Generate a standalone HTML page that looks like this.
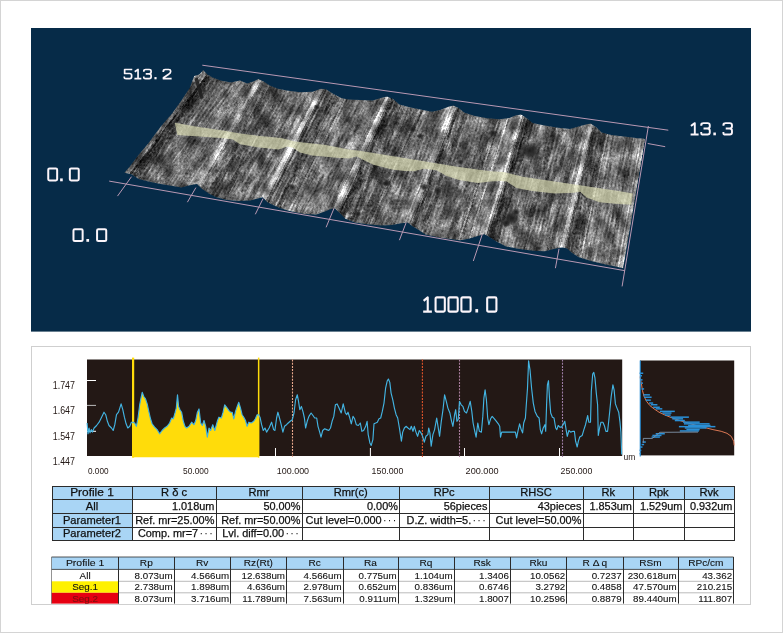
<!DOCTYPE html>
<html><head><meta charset="utf-8"><title>Profile</title>
<style>
html,body{margin:0;padding:0;background:#fff;}
body{width:783px;height:633px;position:relative;overflow:hidden;font-family:"Liberation Sans",sans-serif;color:#231815;}
#frame{position:absolute;left:0;top:0;width:781px;height:631px;border:1px solid #d4d4d4;}
#panel{position:absolute;left:31px;top:346px;width:718px;height:257px;border:1px solid #cfcfcf;}
svg{position:absolute;left:0;top:0;}
.c,.d{position:absolute;box-sizing:border-box;font-size:10.6px;line-height:1;white-space:nowrap;overflow:hidden;color:#111;}
.c{border:1px solid #3a3a3a;margin:-0.5px;background:#fff;}
.c span{display:inline-block;transform:scaleX(0.94);position:relative;top:1.2px;}
.c.b,.d.b{background:#a9d5f5;}
.d{border-left:1px solid #3a3a3a;border-right:1px solid #3a3a3a;margin-left:-0.5px;background:#fff;font-size:10.2px}
.d span{display:inline-block;position:relative;top:0.8px;transform:scaleX(0.93);transform-origin:right center;}
.d.hb{border:1px solid #3a3a3a;}
.d.hb span,.d.w span,.d.y span,.d.r span{transform-origin:center center;}
.d.y{background:#fff100;}
.d.r{background:#e60012;color:#5a0a0a;}
</style></head><body>
<div id="frame"></div>
<div id="panel"></div>
<svg width="783" height="633" viewBox="0 0 783 633">

<rect x="31" y="28" width="720" height="303.6" fill="#062b48"/>
<defs>
<clipPath id="sclip"><path d="M124.5,172.8 131.5,174.3 138.8,179.1 148.5,181.5 160.7,184.0 172.8,185.9 181.3,187.6 189.8,185.2 197.0,184.0 201.9,188.8 209.2,193.7 216.5,197.3 226.2,199.7 238.3,201.0 250.4,200.5 257.7,198.5 262.6,197.3 267.4,202.2 274.7,205.8 280.0,207.9 289.7,211.1 304.3,214.0 316.4,214.5 324.9,211.5 331.0,209.1 334.6,208.6 339.5,212.8 345.5,218.8 355.2,222.5 367.4,224.2 381.9,225.6 391.6,224.9 401.3,223.2 407.4,222.5 412.3,226.1 418.3,229.7 425.6,234.6 440.2,237.8 454.7,239.5 460.0,240.3 469.7,238.6 479.4,235.5 484.3,234.3 489.1,236.7 496.4,241.5 506.1,246.4 518.2,248.8 532.8,250.8 544.9,251.3 554.6,248.8 561.9,247.6 566.8,248.3 571.6,252.5 578.9,257.3 591.0,261.0 605.6,264.6 617.7,267.0 623.1,268.2 645.3,138.7 638.0,138.2 625.9,136.7 611.3,135.0 601.6,132.6 596.8,127.8 590.7,123.6 585.9,124.6 578.6,126.5 570.0,129.0 558.0,127.8 543.4,125.3 532.5,122.9 526.4,118.0 521.0,114.4 515.5,115.6 509.4,118.0 499.7,119.3 487.1,118.3 474.9,115.9 464.6,112.8 458.5,108.1 453.4,105.6 448.3,106.7 440.1,110.1 431.9,111.8 421.7,109.7 409.5,107.3 399.3,104.6 393.1,99.1 387.0,96.5 380.9,97.9 372.7,100.5 360.4,99.9 348.2,99.5 341.2,97.9 333.0,93.8 325.9,89.3 320.8,88.7 312.6,91.8 300.3,92.2 288.1,90.8 277.9,88.7 269.7,85.6 263.6,81.6 258.4,79.1 253.3,81.6 247.2,83.6 240.0,80.5 230.9,82.6 220.6,80.5 212.5,77.5 207.4,74.4 203.3,70.3 199.2,74.4 194.3,76.0 192.5,80.5 190.0,87.6 182.1,99.5 172.3,113.3 160.4,127.1 148.6,142.9 138.7,154.8 129.8,166.6 124.5,172.8z"/></clipPath>
<radialGradient id="pit"><stop offset="0" stop-color="#181818" stop-opacity="0.95"/><stop offset="0.55" stop-color="#222" stop-opacity="0.7"/><stop offset="1" stop-color="#333" stop-opacity="0"/></radialGradient>
<filter id="aniso0" x="0" y="0" width="100%" height="100%" color-interpolation-filters="sRGB">
<feTurbulence type="fractalNoise" baseFrequency="0.5 0.05" numOctaves="3" seed="3"/>
<feColorMatrix type="matrix" values="0.6 0 0 0 0.2  0.6 0 0 0 0.2  0.6 0 0 0 0.2  0 0 0 0 1"/>
</filter>
<filter id="aniso1" x="0" y="0" width="100%" height="100%" color-interpolation-filters="sRGB">
<feTurbulence type="fractalNoise" baseFrequency="0.5 0.05" numOctaves="3" seed="11"/>
<feColorMatrix type="matrix" values="0.6 0 0 0 0.2  0.6 0 0 0 0.2  0.6 0 0 0 0.2  0 0 0 0 1"/>
</filter>
<filter id="aniso2" x="0" y="0" width="100%" height="100%" color-interpolation-filters="sRGB">
<feTurbulence type="fractalNoise" baseFrequency="0.5 0.05" numOctaves="3" seed="23"/>
<feColorMatrix type="matrix" values="0.6 0 0 0 0.2  0.6 0 0 0 0.2  0.6 0 0 0 0.2  0 0 0 0 1"/>
</filter>
<filter id="grain" x="0" y="0" width="100%" height="100%" color-interpolation-filters="sRGB">
<feTurbulence type="fractalNoise" baseFrequency="0.5 0.4" numOctaves="2" seed="5" result="n"/>
<feColorMatrix in="n" type="matrix" values="1 0 0 0 0  1 0 0 0 0  1 0 0 0 0  0 0 0 0 1" result="ng"/>
<feComposite in="SourceGraphic" in2="ng" operator="arithmetic" k1="0" k2="1" k3="0.42" k4="-0.22" result="m"/>
<feTurbulence type="fractalNoise" baseFrequency="0.07 0.06" numOctaves="2" seed="8" result="b"/>
<feColorMatrix in="b" type="matrix" values="1.6 0 0 0 -0.3  1.6 0 0 0 -0.3  1.6 0 0 0 -0.3  0 0 0 0 1" result="bg"/>
<feComposite in="m" in2="bg" operator="arithmetic" k1="0.95" k2="0.52" k3="0" k4="0" result="m2"/>
<feGaussianBlur in="m2" stdDeviation="0.45" result="m3"/>
<feComposite in="m3" in2="SourceGraphic" operator="in"/>
</filter>
<clipPath id="seg0"><path d="M116.5,184.8 197.6,196.0 259.0,67.1 189.3,64.3 z"/></clipPath>
<clipPath id="seg1"><path d="M196.4,196.0 263.2,209.3 321.4,76.7 257.8,67.1 z"/></clipPath>
<clipPath id="seg2"><path d="M262.0,209.3 335.2,220.6 387.6,84.5 320.2,76.7 z"/></clipPath>
<clipPath id="seg3"><path d="M334.0,220.6 408.0,234.5 454.0,93.6 386.4,84.5 z"/></clipPath>
<clipPath id="seg4"><path d="M406.8,234.5 484.9,246.3 521.6,102.4 452.8,93.6 z"/></clipPath>
<clipPath id="seg5"><path d="M483.7,246.3 562.5,259.6 591.3,111.6 520.4,102.4 z"/></clipPath>
<clipPath id="seg6"><path d="M561.3,259.6 623.7,280.2 645.9,126.7 590.1,111.6 z"/></clipPath>
</defs>
<g clip-path="url(#sclip)">
<g filter="url(#grain)">
<g style="isolation:isolate">
<path d="M124.5,172.8 131.5,174.3 138.8,179.1 148.5,181.5 160.7,184.0 172.8,185.9 181.3,187.6 189.8,185.2 197.0,184.0 201.9,188.8 209.2,193.7 216.5,197.3 226.2,199.7 238.3,201.0 250.4,200.5 257.7,198.5 262.6,197.3 267.4,202.2 274.7,205.8 280.0,207.9 289.7,211.1 304.3,214.0 316.4,214.5 324.9,211.5 331.0,209.1 334.6,208.6 339.5,212.8 345.5,218.8 355.2,222.5 367.4,224.2 381.9,225.6 391.6,224.9 401.3,223.2 407.4,222.5 412.3,226.1 418.3,229.7 425.6,234.6 440.2,237.8 454.7,239.5 460.0,240.3 469.7,238.6 479.4,235.5 484.3,234.3 489.1,236.7 496.4,241.5 506.1,246.4 518.2,248.8 532.8,250.8 544.9,251.3 554.6,248.8 561.9,247.6 566.8,248.3 571.6,252.5 578.9,257.3 591.0,261.0 605.6,264.6 617.7,267.0 623.1,268.2 645.3,138.7 638.0,138.2 625.9,136.7 611.3,135.0 601.6,132.6 596.8,127.8 590.7,123.6 585.9,124.6 578.6,126.5 570.0,129.0 558.0,127.8 543.4,125.3 532.5,122.9 526.4,118.0 521.0,114.4 515.5,115.6 509.4,118.0 499.7,119.3 487.1,118.3 474.9,115.9 464.6,112.8 458.5,108.1 453.4,105.6 448.3,106.7 440.1,110.1 431.9,111.8 421.7,109.7 409.5,107.3 399.3,104.6 393.1,99.1 387.0,96.5 380.9,97.9 372.7,100.5 360.4,99.9 348.2,99.5 341.2,97.9 333.0,93.8 325.9,89.3 320.8,88.7 312.6,91.8 300.3,92.2 288.1,90.8 277.9,88.7 269.7,85.6 263.6,81.6 258.4,79.1 253.3,81.6 247.2,83.6 240.0,80.5 230.9,82.6 220.6,80.5 212.5,77.5 207.4,74.4 203.3,70.3 199.2,74.4 194.3,76.0 192.5,80.5 190.0,87.6 182.1,99.5 172.3,113.3 160.4,127.1 148.6,142.9 138.7,154.8 129.8,166.6 124.5,172.8z" fill="#808080"/>
<g shape-rendering="crispEdges">
<path d="M124.5,172.8 127.0,173.3 205.2,72.2 203.3,70.3z" fill="#5f5f5f"/>
<path d="M126.1,173.2 128.7,173.7 206.5,73.5 204.6,71.6z" fill="#5d5d5d"/>
<path d="M127.8,173.5 130.3,174.0 207.7,74.6 205.8,72.8z" fill="#565656"/>
<path d="M129.4,173.9 132.0,174.6 209.0,75.4 207.1,74.1z" fill="#282828"/>
<path d="M131.1,174.2 133.6,175.7 210.2,76.1 208.3,75.0z" fill="#242424"/>
<path d="M132.7,175.1 135.3,176.8 211.5,76.9 209.6,75.7z" fill="#323232"/>
<path d="M134.4,176.2 136.9,177.9 212.7,77.6 210.8,76.5z" fill="#383838"/>
<path d="M136.0,177.3 138.6,178.9 214.0,78.0 212.1,77.2z" fill="#3c3c3c"/>
<path d="M137.7,178.4 140.2,179.4 215.2,78.5 213.3,77.8z" fill="#474747"/>
<path d="M139.3,179.2 141.8,179.9 216.5,79.0 214.6,78.3z" fill="#4e4e4e"/>
<path d="M141.0,179.6 143.5,180.3 217.7,79.4 215.8,78.7z" fill="#565656"/>
<path d="M142.6,180.0 145.1,180.7 219.0,79.9 217.1,79.2z" fill="#575757"/>
<path d="M144.3,180.5 146.8,181.1 220.2,80.4 218.3,79.7z" fill="#6a6a6a"/>
<path d="M145.9,180.9 148.4,181.5 221.5,80.7 219.6,80.1z" fill="#686868"/>
<path d="M147.6,181.3 150.1,181.8 222.7,80.9 220.8,80.5z" fill="#6c6c6c"/>
<path d="M149.2,181.6 151.7,182.2 224.0,81.2 222.1,80.8z" fill="#666666"/>
<path d="M150.9,182.0 153.4,182.5 225.2,81.4 223.3,81.1z" fill="#686868"/>
<path d="M152.5,182.3 155.0,182.8 226.5,81.7 224.6,81.3z" fill="#6e6e6e"/>
<path d="M154.2,182.7 156.7,183.2 227.8,82.0 225.8,81.6z" fill="#626262"/>
<path d="M155.8,183.0 158.3,183.5 229.0,82.2 227.1,81.8z" fill="#656565"/>
<path d="M157.5,183.3 160.0,183.9 230.3,82.5 228.3,82.1z" fill="#6a6a6a"/>
<path d="M159.1,183.7 161.6,184.1 231.5,82.5 229.6,82.3z" fill="#616161"/>
<path d="M160.8,184.0 163.3,184.4 232.8,82.2 230.8,82.6z" fill="#5d5d5d"/>
<path d="M162.4,184.3 164.9,184.7 234.0,81.9 232.1,82.3z" fill="#606060"/>
<path d="M164.0,184.5 166.6,184.9 235.3,81.6 233.4,82.0z" fill="#696969"/>
<path d="M165.7,184.8 168.2,185.2 236.5,81.3 234.6,81.7z" fill="#676767"/>
<path d="M167.3,185.0 169.9,185.4 237.8,81.0 235.9,81.5z" fill="#656565"/>
<path d="M169.0,185.3 171.5,185.7 239.0,80.7 237.1,81.2z" fill="#7f7f7f"/>
<path d="M170.6,185.6 173.2,186.0 240.3,80.6 238.4,80.9z" fill="#797979"/>
<path d="M172.3,185.8 174.8,186.3 241.5,81.2 239.6,80.6z" fill="#838383"/>
<path d="M173.9,186.1 176.4,186.6 242.8,81.7 240.9,80.9z" fill="#797979"/>
<path d="M175.6,186.5 178.1,187.0 244.0,82.2 242.1,81.4z" fill="#808080"/>
<path d="M177.2,186.8 179.7,187.3 245.3,82.8 243.4,82.0z" fill="#7e7e7e"/>
<path d="M178.9,187.1 181.4,187.6 246.5,83.3 244.6,82.5z" fill="#606060"/>
<path d="M180.5,187.4 183.0,187.1 247.8,83.4 245.9,83.0z" fill="#636363"/>
<path d="M182.2,187.4 184.7,186.6 249.0,83.0 247.1,83.6z" fill="#696969"/>
<path d="M183.8,186.9 186.3,186.2 250.3,82.6 248.4,83.2z" fill="#686868"/>
<path d="M185.5,186.4 188.0,185.7 251.5,82.2 249.6,82.8z" fill="#6e6e6e"/>
<path d="M187.1,186.0 189.6,185.2 252.8,81.8 250.9,82.4z" fill="#696969"/>
<path d="M188.8,185.5 191.3,185.0 254.1,81.2 252.1,82.0z" fill="#747474"/>
<path d="M190.4,185.1 192.9,184.7 255.3,80.6 253.4,81.6z" fill="#6e6e6e"/>
<path d="M192.1,184.8 194.6,184.4 256.6,80.0 254.6,80.9z" fill="#747474"/>
<path d="M193.7,184.5 196.2,184.1 257.8,79.4 255.9,80.3z" fill="#8d8d8d"/>
<path d="M195.4,184.3 197.8,184.8 259.1,79.5 257.1,79.7z" fill="#989898"/>
<path d="M197.0,184.0 199.3,186.2 260.6,80.1 258.4,79.1z" fill="#bababa"/>
<path d="M198.5,185.5 200.8,187.7 262.0,80.8 259.8,79.8z" fill="#bbbbbb"/>
<path d="M200.0,186.9 202.3,189.0 263.4,81.5 261.2,80.5z" fill="#7c7c7c"/>
<path d="M201.5,188.4 203.8,190.0 264.8,82.4 262.7,81.1z" fill="#616161"/>
<path d="M203.0,189.5 205.2,191.0 266.2,83.3 264.1,81.9z" fill="#686868"/>
<path d="M204.5,190.5 206.7,192.0 267.7,84.3 265.5,82.8z" fill="#636363"/>
<path d="M205.9,191.5 208.2,193.0 269.1,85.2 266.9,83.8z" fill="#696969"/>
<path d="M207.4,192.5 209.7,194.0 270.5,85.9 268.3,84.7z" fill="#494949"/>
<path d="M208.9,193.5 211.2,194.7 271.9,86.4 269.7,85.6z" fill="#505050"/>
<path d="M210.4,194.3 212.7,195.4 273.3,87.0 271.2,86.2z" fill="#4f4f4f"/>
<path d="M211.9,195.0 214.2,196.2 274.7,87.5 272.6,86.7z" fill="#4c4c4c"/>
<path d="M213.4,195.8 215.7,196.9 276.2,88.0 274.0,87.2z" fill="#585858"/>
<path d="M214.9,196.5 217.2,197.5 277.6,88.6 275.4,87.8z" fill="#555555"/>
<path d="M216.4,197.2 218.7,197.8 279.0,88.9 276.8,88.3z" fill="#565656"/>
<path d="M217.9,197.6 220.2,198.2 280.4,89.2 278.3,88.8z" fill="#646464"/>
<path d="M219.4,198.0 221.6,198.6 281.8,89.5 279.7,89.1z" fill="#5c5c5c"/>
<path d="M220.9,198.4 223.1,198.9 283.3,89.8 281.1,89.4z" fill="#505050"/>
<path d="M222.3,198.7 224.6,199.3 284.7,90.1 282.5,89.6z" fill="#585858"/>
<path d="M223.8,199.1 226.1,199.7 286.1,90.4 283.9,89.9z" fill="#4b4b4b"/>
<path d="M225.3,199.5 227.6,199.9 287.5,90.7 285.3,90.2z" fill="#5f5f5f"/>
<path d="M226.8,199.8 229.1,200.0 288.9,90.9 286.8,90.5z" fill="#5f5f5f"/>
<path d="M228.3,199.9 230.6,200.2 290.3,91.1 288.2,90.8z" fill="#646464"/>
<path d="M229.8,200.1 232.1,200.3 291.8,91.2 289.6,91.0z" fill="#606060"/>
<path d="M231.3,200.2 233.6,200.5 293.2,91.4 291.0,91.1z" fill="#676767"/>
<path d="M232.8,200.4 235.1,200.7 294.6,91.5 292.4,91.3z" fill="#676767"/>
<path d="M234.3,200.6 236.6,200.8 296.0,91.7 293.9,91.5z" fill="#666666"/>
<path d="M235.8,200.7 238.0,201.0 297.4,91.9 295.3,91.6z" fill="#676767"/>
<path d="M237.3,200.9 239.5,200.9 298.9,92.0 296.7,91.8z" fill="#666666"/>
<path d="M238.7,201.0 241.0,200.9 300.3,92.2 298.1,91.9z" fill="#636363"/>
<path d="M240.2,200.9 242.5,200.8 301.7,92.2 299.5,92.1z" fill="#5d5d5d"/>
<path d="M241.7,200.9 244.0,200.8 303.1,92.1 300.9,92.2z" fill="#616161"/>
<path d="M243.2,200.8 245.5,200.7 304.5,92.1 302.4,92.1z" fill="#757575"/>
<path d="M244.7,200.7 247.0,200.6 305.9,92.0 303.8,92.1z" fill="#7f7f7f"/>
<path d="M246.2,200.7 248.5,200.6 307.4,92.0 305.2,92.0z" fill="#767676"/>
<path d="M247.7,200.6 250.0,200.5 308.8,91.9 306.6,92.0z" fill="#5a5a5a"/>
<path d="M249.2,200.6 251.5,200.2 310.2,91.9 308.0,91.9z" fill="#636363"/>
<path d="M250.7,200.4 253.0,199.8 311.6,91.8 309.5,91.9z" fill="#686868"/>
<path d="M252.2,200.0 254.4,199.4 313.0,91.6 310.9,91.9z" fill="#7c7c7c"/>
<path d="M253.7,199.6 255.9,199.0 314.5,91.1 312.3,91.8z" fill="#8d8d8d"/>
<path d="M255.1,199.2 257.4,198.6 315.9,90.6 313.7,91.4z" fill="#909090"/>
<path d="M256.6,198.8 258.9,198.2 317.3,90.0 315.1,90.8z" fill="#7f7f7f"/>
<path d="M258.1,198.4 260.4,197.8 318.7,89.5 316.5,90.3z" fill="#848484"/>
<path d="M259.6,198.0 261.9,197.5 320.1,89.0 318.0,89.8z" fill="#8c8c8c"/>
<path d="M261.1,197.7 263.5,198.2 321.6,88.8 319.4,89.2z" fill="#c2c2c2"/>
<path d="M262.6,197.3 265.1,199.9 323.1,89.0 320.8,88.7z" fill="#d4d4d4"/>
<path d="M264.2,199.0 266.7,201.5 324.6,89.1 322.3,88.9z" fill="#c3c3c3"/>
<path d="M265.9,200.6 268.4,202.7 326.1,89.4 323.8,89.1z" fill="#737373"/>
<path d="M267.5,202.3 270.0,203.5 327.6,90.4 325.3,89.2z" fill="#4b4b4b"/>
<path d="M269.1,203.1 271.6,204.3 329.1,91.3 326.8,89.9z" fill="#7c7c7c"/>
<path d="M270.8,203.9 273.3,205.1 330.6,92.3 328.3,90.8z" fill="#585858"/>
<path d="M272.4,204.7 274.9,205.9 332.1,93.2 329.8,91.8z" fill="#5e5e5e"/>
<path d="M274.1,205.5 276.6,206.5 333.6,94.1 331.3,92.7z" fill="#626262"/>
<path d="M275.7,206.2 278.2,207.2 335.1,94.9 332.8,93.7z" fill="#414141"/>
<path d="M277.3,206.8 279.8,207.8 336.6,95.6 334.3,94.5z" fill="#464646"/>
<path d="M279.0,207.5 281.5,208.4 338.1,96.4 335.8,95.2z" fill="#4b4b4b"/>
<path d="M280.6,208.1 283.1,208.9 339.6,97.1 337.4,96.0z" fill="#686868"/>
<path d="M282.2,208.6 284.7,209.5 341.2,97.9 338.9,96.7z" fill="#6f6f6f"/>
<path d="M283.9,209.2 286.4,210.0 342.7,98.2 340.4,97.5z" fill="#6f6f6f"/>
<path d="M285.5,209.7 288.0,210.5 344.2,98.6 341.9,98.1z" fill="#636363"/>
<path d="M287.1,210.3 289.6,211.1 345.7,98.9 343.4,98.4z" fill="#5a5a5a"/>
<path d="M288.8,210.8 291.3,211.4 347.2,99.3 344.9,98.7z" fill="#909090"/>
<path d="M290.4,211.2 292.9,211.7 348.7,99.5 346.4,99.1z" fill="#686868"/>
<path d="M292.1,211.6 294.6,212.1 350.2,99.6 347.9,99.4z" fill="#717171"/>
<path d="M293.7,211.9 296.2,212.4 351.7,99.6 349.4,99.5z" fill="#6a6a6a"/>
<path d="M295.3,212.2 297.8,212.7 353.2,99.7 350.9,99.6z" fill="#707070"/>
<path d="M297.0,212.5 299.5,213.0 354.7,99.7 352.4,99.6z" fill="#727272"/>
<path d="M298.6,212.9 301.1,213.4 356.2,99.8 353.9,99.7z" fill="#7b7b7b"/>
<path d="M300.2,213.2 302.7,213.7 357.7,99.8 355.4,99.7z" fill="#727272"/>
<path d="M301.9,213.5 304.4,214.0 359.2,99.9 356.9,99.8z" fill="#6d6d6d"/>
<path d="M303.5,213.8 306.0,214.1 360.7,99.9 358.4,99.8z" fill="#6e6e6e"/>
<path d="M305.1,214.0 307.6,214.1 362.2,100.0 359.9,99.9z" fill="#727272"/>
<path d="M306.8,214.1 309.3,214.2 363.7,100.1 361.4,99.9z" fill="#737373"/>
<path d="M308.4,214.2 310.9,214.3 365.2,100.1 362.9,100.0z" fill="#767676"/>
<path d="M310.1,214.2 312.6,214.3 366.7,100.2 364.4,100.1z" fill="#6d6d6d"/>
<path d="M311.7,214.3 314.2,214.4 368.2,100.3 365.9,100.2z" fill="#717171"/>
<path d="M313.3,214.4 315.8,214.5 369.7,100.4 367.4,100.2z" fill="#666666"/>
<path d="M315.0,214.4 317.5,214.1 371.2,100.4 368.9,100.3z" fill="#636363"/>
<path d="M316.6,214.4 319.1,213.5 372.7,100.5 370.4,100.4z" fill="#6b6b6b"/>
<path d="M318.2,213.9 320.7,213.0 374.3,100.0 372.0,100.5z" fill="#707070"/>
<path d="M319.9,213.3 322.4,212.4 375.8,99.5 373.5,100.3z" fill="#868686"/>
<path d="M321.5,212.7 324.0,211.8 377.3,99.1 375.0,99.8z" fill="#8b8b8b"/>
<path d="M323.1,212.1 325.6,211.2 378.8,98.6 376.5,99.3z" fill="#828282"/>
<path d="M324.8,211.5 327.3,210.6 380.3,98.1 378.0,98.8z" fill="#7d7d7d"/>
<path d="M326.4,210.9 328.9,209.9 381.8,97.7 379.5,98.4z" fill="#757575"/>
<path d="M328.1,210.3 330.6,209.3 383.3,97.4 381.0,97.9z" fill="#808080"/>
<path d="M329.7,209.6 332.2,208.9 384.8,97.0 382.5,97.5z" fill="#777777"/>
<path d="M331.3,209.1 333.8,208.7 386.3,96.7 384.0,97.2z" fill="#818181"/>
<path d="M333.0,208.8 335.5,209.3 387.8,96.8 385.5,96.8z" fill="#cfcfcf"/>
<path d="M334.6,208.6 337.1,210.8 389.3,97.5 387.0,96.5z" fill="#c0c0c0"/>
<path d="M336.3,210.0 338.8,212.2 390.8,98.1 388.5,97.1z" fill="#999999"/>
<path d="M337.9,211.4 340.4,213.7 392.3,98.8 390.0,97.8z" fill="#636363"/>
<path d="M339.6,212.9 342.1,215.4 393.8,99.8 391.5,98.4z" fill="#313131"/>
<path d="M341.2,214.5 343.7,217.0 395.3,101.1 393.0,99.1z" fill="#363636"/>
<path d="M342.9,216.2 345.4,218.7 396.9,102.4 394.5,100.4z" fill="#3a3a3a"/>
<path d="M344.5,217.8 347.1,219.4 398.4,103.8 396.1,101.7z" fill="#4d4d4d"/>
<path d="M346.2,219.1 348.7,220.0 399.9,104.8 397.6,103.1z" fill="#5c5c5c"/>
<path d="M347.8,219.7 350.4,220.7 401.4,105.2 399.1,104.4z" fill="#5e5e5e"/>
<path d="M349.5,220.3 352.0,221.3 402.9,105.5 400.6,104.9z" fill="#474747"/>
<path d="M351.1,221.0 353.7,221.9 404.4,105.9 402.1,105.3z" fill="#414141"/>
<path d="M352.8,221.6 355.3,222.5 405.9,106.3 403.6,105.7z" fill="#4d4d4d"/>
<path d="M354.5,222.2 357.0,222.7 407.4,106.7 405.1,106.1z" fill="#646464"/>
<path d="M356.1,222.6 358.6,223.0 408.9,107.1 406.6,106.5z" fill="#6d6d6d"/>
<path d="M357.8,222.9 360.3,223.2 410.4,107.5 408.1,106.9z" fill="#6f6f6f"/>
<path d="M359.4,223.1 361.9,223.4 411.9,107.8 409.6,107.3z" fill="#535353"/>
<path d="M361.1,223.3 363.6,223.7 413.5,108.1 411.1,107.6z" fill="#545454"/>
<path d="M362.7,223.5 365.3,223.9 415.0,108.4 412.7,107.9z" fill="#535353"/>
<path d="M364.4,223.8 366.9,224.1 416.5,108.7 414.2,108.2z" fill="#535353"/>
<path d="M366.0,224.0 368.6,224.3 418.0,109.0 415.7,108.5z" fill="#5a5a5a"/>
<path d="M367.7,224.2 370.2,224.5 419.5,109.3 417.2,108.8z" fill="#565656"/>
<path d="M369.3,224.4 371.9,224.6 421.0,109.6 418.7,109.1z" fill="#848484"/>
<path d="M371.0,224.5 373.5,224.8 422.5,109.9 420.2,109.4z" fill="#595959"/>
<path d="M372.7,224.7 375.2,225.0 424.0,110.2 421.7,109.7z" fill="#505050"/>
<path d="M374.3,224.9 376.8,225.1 425.5,110.5 423.2,110.0z" fill="#717171"/>
<path d="M376.0,225.0 378.5,225.3 427.0,110.8 424.7,110.3z" fill="#767676"/>
<path d="M377.6,225.2 380.1,225.4 428.5,111.1 426.2,110.6z" fill="#7c7c7c"/>
<path d="M379.3,225.3 381.8,225.6 430.1,111.4 427.7,110.9z" fill="#6a6a6a"/>
<path d="M380.9,225.5 383.5,225.5 431.6,111.7 429.3,111.3z" fill="#656565"/>
<path d="M382.6,225.6 385.1,225.4 433.1,111.6 430.8,111.6z" fill="#6b6b6b"/>
<path d="M384.2,225.4 386.8,225.2 434.6,111.2 432.3,111.7z" fill="#5c5c5c"/>
<path d="M385.9,225.3 388.4,225.1 436.1,110.9 433.8,111.4z" fill="#5c5c5c"/>
<path d="M387.5,225.2 390.1,225.0 437.6,110.6 435.3,111.1z" fill="#616161"/>
<path d="M389.2,225.1 391.7,224.9 439.1,110.3 436.8,110.8z" fill="#626262"/>
<path d="M390.9,225.0 393.4,224.6 440.6,109.9 438.3,110.5z" fill="#616161"/>
<path d="M392.5,224.7 395.0,224.3 442.1,109.3 439.8,110.2z" fill="#5c5c5c"/>
<path d="M394.2,224.5 396.7,224.0 443.6,108.6 441.3,109.6z" fill="#696969"/>
<path d="M395.8,224.2 398.3,223.7 445.1,108.0 442.8,109.0z" fill="#6d6d6d"/>
<path d="M397.5,223.9 400.0,223.4 446.7,107.4 444.3,108.3z" fill="#7c7c7c"/>
<path d="M399.1,223.6 401.7,223.2 448.2,106.8 445.9,107.7z" fill="#858585"/>
<path d="M400.8,223.3 403.3,223.0 449.7,106.4 447.4,107.1z" fill="#858585"/>
<path d="M402.4,223.1 405.0,222.8 451.2,106.1 448.9,106.6z" fill="#929292"/>
<path d="M404.1,222.9 406.6,222.6 452.7,105.8 450.4,106.3z" fill="#b8b8b8"/>
<path d="M405.7,222.7 408.3,223.2 454.2,106.0 451.9,105.9z" fill="#969696"/>
<path d="M407.4,222.5 410.1,224.5 455.7,106.8 453.4,105.6z" fill="#b4b4b4"/>
<path d="M409.1,223.8 411.8,225.7 457.3,107.5 454.9,106.4z" fill="#8e8e8e"/>
<path d="M410.9,225.1 413.6,226.9 458.8,108.3 456.5,107.1z" fill="#515151"/>
<path d="M412.6,226.3 415.3,227.9 460.4,109.5 458.0,107.9z" fill="#363636"/>
<path d="M414.4,227.4 417.1,229.0 461.9,110.7 459.5,108.9z" fill="#5c5c5c"/>
<path d="M416.1,228.4 418.8,230.0 463.4,111.9 461.1,110.1z" fill="#676767"/>
<path d="M417.9,229.5 420.6,231.2 465.0,112.9 462.6,111.3z" fill="#646464"/>
<path d="M419.6,230.6 422.3,232.4 466.5,113.4 464.2,112.5z" fill="#4b4b4b"/>
<path d="M421.4,231.8 424.1,233.6 468.0,113.8 465.7,113.1z" fill="#4d4d4d"/>
<path d="M423.1,232.9 425.8,234.6 469.6,114.3 467.2,113.6z" fill="#555555"/>
<path d="M424.9,234.1 427.5,235.0 471.1,114.8 468.8,114.1z" fill="#656565"/>
<path d="M426.6,234.8 429.3,235.4 472.6,115.2 470.3,114.5z" fill="#6d6d6d"/>
<path d="M428.4,235.2 431.0,235.8 474.2,115.7 471.8,115.0z" fill="#6c6c6c"/>
<path d="M430.1,235.6 432.8,236.2 475.7,116.1 473.4,115.4z" fill="#6f6f6f"/>
<path d="M431.9,236.0 434.5,236.6 477.3,116.4 474.9,115.9z" fill="#6e6e6e"/>
<path d="M433.6,236.4 436.3,236.9 478.8,116.7 476.4,116.2z" fill="#6d6d6d"/>
<path d="M435.4,236.7 438.0,237.3 480.3,117.0 478.0,116.5z" fill="#707070"/>
<path d="M437.1,237.1 439.8,237.7 481.9,117.3 479.5,116.8z" fill="#717171"/>
<path d="M438.9,237.5 441.5,238.0 483.4,117.6 481.1,117.1z" fill="#666666"/>
<path d="M440.6,237.8 443.3,238.2 484.9,117.9 482.6,117.4z" fill="#757575"/>
<path d="M442.4,238.1 445.0,238.4 486.5,118.2 484.1,117.7z" fill="#777777"/>
<path d="M444.1,238.3 446.8,238.6 488.0,118.4 485.7,118.0z" fill="#787878"/>
<path d="M445.9,238.5 448.5,238.8 489.5,118.5 487.2,118.3z" fill="#585858"/>
<path d="M447.6,238.7 450.3,239.0 491.1,118.6 488.7,118.4z" fill="#585858"/>
<path d="M449.3,238.9 452.0,239.2 492.6,118.7 490.3,118.6z" fill="#545454"/>
<path d="M451.1,239.1 453.8,239.4 494.2,118.9 491.8,118.7z" fill="#5f5f5f"/>
<path d="M452.8,239.3 455.5,239.6 495.7,119.0 493.3,118.8z" fill="#5d5d5d"/>
<path d="M454.6,239.5 457.3,239.9 497.2,119.1 494.9,118.9z" fill="#555555"/>
<path d="M456.3,239.7 459.0,240.2 498.8,119.2 496.4,119.0z" fill="#575757"/>
<path d="M458.1,240.0 460.8,240.2 500.3,119.2 498.0,119.2z" fill="#878787"/>
<path d="M459.8,240.3 462.5,239.9 501.8,119.0 499.5,119.3z" fill="#4c4c4c"/>
<path d="M461.6,240.0 464.3,239.6 503.4,118.8 501.0,119.1z" fill="#737373"/>
<path d="M463.3,239.7 466.0,239.2 504.9,118.6 502.6,118.9z" fill="#727272"/>
<path d="M465.1,239.4 467.7,238.9 506.4,118.4 504.1,118.7z" fill="#737373"/>
<path d="M466.8,239.1 469.5,238.6 508.0,118.2 505.6,118.5z" fill="#777777"/>
<path d="M468.6,238.8 471.2,238.1 509.5,118.0 507.2,118.3z" fill="#b7b7b7"/>
<path d="M470.3,238.4 473.0,237.5 511.1,117.3 508.7,118.1z" fill="#7e7e7e"/>
<path d="M472.1,237.8 474.7,237.0 512.6,116.7 510.2,117.7z" fill="#828282"/>
<path d="M473.8,237.3 476.5,236.4 514.1,116.1 511.8,117.1z" fill="#828282"/>
<path d="M475.6,236.7 478.2,235.9 515.7,115.6 513.3,116.5z" fill="#878787"/>
<path d="M477.3,236.2 480.0,235.4 517.2,115.2 514.9,115.9z" fill="#7b7b7b"/>
<path d="M479.1,235.6 481.7,234.9 518.7,114.9 516.4,115.4z" fill="#7e7e7e"/>
<path d="M480.8,235.2 483.5,234.5 520.3,114.6 517.9,115.1z" fill="#8e8e8e"/>
<path d="M482.6,234.7 485.2,234.8 521.8,115.0 519.5,114.7z" fill="#979797"/>
<path d="M484.3,234.3 487.0,235.6 523.4,116.0 521.0,114.4z" fill="#d8d8d8"/>
<path d="M486.1,235.2 488.8,236.5 525.0,117.1 522.6,115.5z" fill="#8f8f8f"/>
<path d="M487.8,236.1 490.5,237.6 526.6,118.2 524.2,116.5z" fill="#4a4a4a"/>
<path d="M489.6,237.0 492.3,238.8 528.2,119.4 525.8,117.6z" fill="#303030"/>
<path d="M491.4,238.2 494.0,240.0 529.8,120.7 527.3,118.8z" fill="#2c2c2c"/>
<path d="M493.1,239.3 495.8,241.1 531.3,122.0 528.9,120.0z" fill="#464646"/>
<path d="M494.9,240.5 497.6,242.1 532.9,123.0 530.5,121.3z" fill="#474747"/>
<path d="M496.6,241.6 499.3,243.0 534.5,123.3 532.1,122.6z" fill="#434343"/>
<path d="M498.4,242.5 501.1,243.9 536.1,123.7 533.7,123.2z" fill="#6c6c6c"/>
<path d="M500.2,243.4 502.9,244.8 537.7,124.0 535.3,123.5z" fill="#6e6e6e"/>
<path d="M501.9,244.3 504.6,245.7 539.3,124.4 536.8,123.9z" fill="#6d6d6d"/>
<path d="M503.7,245.2 506.4,246.5 540.8,124.7 538.4,124.2z" fill="#6d6d6d"/>
<path d="M505.5,246.1 508.2,246.8 542.4,125.1 540.0,124.6z" fill="#707070"/>
<path d="M507.2,246.6 509.9,247.2 544.0,125.4 541.6,124.9z" fill="#777777"/>
<path d="M509.0,247.0 511.7,247.5 545.6,125.7 543.2,125.3z" fill="#777777"/>
<path d="M510.8,247.3 513.4,247.9 547.2,125.9 544.8,125.5z" fill="#737373"/>
<path d="M512.5,247.7 515.2,248.2 548.8,126.2 546.3,125.8z" fill="#787878"/>
<path d="M514.3,248.0 517.0,248.6 550.4,126.5 547.9,126.1z" fill="#616161"/>
<path d="M516.0,248.4 518.7,248.9 551.9,126.8 549.5,126.3z" fill="#676767"/>
<path d="M517.8,248.7 520.5,249.1 553.5,127.0 551.1,126.6z" fill="#6a6a6a"/>
<path d="M519.6,249.0 522.3,249.4 555.1,127.3 552.7,126.9z" fill="#565656"/>
<path d="M521.3,249.2 524.0,249.6 556.7,127.6 554.3,127.2z" fill="#4f4f4f"/>
<path d="M523.1,249.5 525.8,249.8 558.3,127.8 555.9,127.4z" fill="#4c4c4c"/>
<path d="M524.9,249.7 527.6,250.1 559.9,128.0 557.4,127.7z" fill="#686868"/>
<path d="M526.6,250.0 529.3,250.3 561.4,128.1 559.0,127.9z" fill="#666666"/>
<path d="M528.4,250.2 531.1,250.6 563.0,128.3 560.6,128.1z" fill="#606060"/>
<path d="M530.2,250.4 532.8,250.8 564.6,128.5 562.2,128.2z" fill="#6a6a6a"/>
<path d="M531.9,250.7 534.6,250.9 566.2,128.6 563.8,128.4z" fill="#5f5f5f"/>
<path d="M533.7,250.8 536.4,250.9 567.8,128.8 565.4,128.5z" fill="#6b6b6b"/>
<path d="M535.4,250.9 538.1,251.0 569.4,128.9 566.9,128.7z" fill="#5c5c5c"/>
<path d="M537.2,251.0 539.9,251.1 570.9,128.7 568.5,128.9z" fill="#5e5e5e"/>
<path d="M539.0,251.1 541.7,251.2 572.5,128.3 570.1,129.0z" fill="#5d5d5d"/>
<path d="M540.7,251.1 543.4,251.2 574.1,127.8 571.7,128.5z" fill="#797979"/>
<path d="M542.5,251.2 545.2,251.2 575.7,127.3 573.3,128.0z" fill="#757575"/>
<path d="M544.3,251.3 547.0,250.8 577.3,126.9 574.9,127.6z" fill="#767676"/>
<path d="M546.0,251.0 548.7,250.3 578.9,126.4 576.4,127.1z" fill="#575757"/>
<path d="M547.8,250.6 550.5,249.9 580.4,126.0 578.0,126.7z" fill="#565656"/>
<path d="M549.6,250.1 552.2,249.4 582.0,125.6 579.6,126.2z" fill="#606060"/>
<path d="M551.3,249.6 554.0,249.0 583.6,125.2 581.2,125.8z" fill="#646464"/>
<path d="M553.1,249.2 555.8,248.6 585.2,124.8 582.8,125.4z" fill="#6b6b6b"/>
<path d="M554.8,248.8 557.5,248.3 586.8,124.4 584.4,125.0z" fill="#797979"/>
<path d="M556.6,248.5 559.3,248.0 588.4,124.1 585.9,124.6z" fill="#6f6f6f"/>
<path d="M558.4,248.2 561.1,247.7 590.0,123.8 587.5,124.3z" fill="#8c8c8c"/>
<path d="M560.1,247.9 562.6,247.7 591.4,124.1 589.1,123.9z" fill="#cecece"/>
<path d="M561.9,247.6 564.0,247.9 592.6,124.9 590.7,123.6z" fill="#cacaca"/>
<path d="M563.3,247.8 565.4,248.1 593.8,125.8 591.9,124.5z" fill="#acacac"/>
<path d="M564.7,248.0 566.8,248.3 595.1,126.6 593.2,125.3z" fill="#616161"/>
<path d="M566.1,248.2 568.2,249.5 596.3,127.5 594.4,126.2z" fill="#3f3f3f"/>
<path d="M567.5,248.9 569.6,250.7 597.6,128.6 595.7,127.0z" fill="#484848"/>
<path d="M568.9,250.1 571.0,252.0 598.8,129.8 596.9,127.9z" fill="#454545"/>
<path d="M570.2,251.3 572.4,253.0 600.0,131.0 598.1,129.1z" fill="#424242"/>
<path d="M571.6,252.5 573.8,253.9 601.3,132.3 599.4,130.4z" fill="#4a4a4a"/>
<path d="M573.0,253.4 575.2,254.8 602.5,132.8 600.6,131.6z" fill="#565656"/>
<path d="M574.4,254.4 576.5,255.8 603.8,133.1 601.9,132.7z" fill="#464646"/>
<path d="M575.8,255.3 577.9,256.7 605.0,133.4 603.1,133.0z" fill="#525252"/>
<path d="M577.2,256.2 579.3,257.4 606.2,133.7 604.4,133.3z" fill="#4b4b4b"/>
<path d="M578.6,257.1 580.7,257.9 607.5,134.1 605.6,133.6z" fill="#646464"/>
<path d="M580.0,257.6 582.1,258.3 608.7,134.4 606.8,133.9z" fill="#9e9e9e"/>
<path d="M581.4,258.1 583.5,258.7 610.0,134.7 608.1,134.2z" fill="#676767"/>
<path d="M582.8,258.5 584.9,259.1 611.2,135.0 609.3,134.5z" fill="#7e7e7e"/>
<path d="M584.2,258.9 586.3,259.6 612.5,135.1 610.6,134.8z" fill="#747474"/>
<path d="M585.5,259.3 587.7,260.0 613.7,135.3 611.8,135.1z" fill="#808080"/>
<path d="M586.9,259.8 589.1,260.4 614.9,135.4 613.0,135.2z" fill="#656565"/>
<path d="M588.3,260.2 590.5,260.8 616.2,135.6 614.3,135.3z" fill="#707070"/>
<path d="M589.7,260.6 591.8,261.2 617.4,135.7 615.5,135.5z" fill="#696969"/>
<path d="M591.1,261.0 593.2,261.6 618.7,135.9 616.8,135.6z" fill="#808080"/>
<path d="M592.5,261.4 594.6,261.9 619.9,136.0 618.0,135.8z" fill="#828282"/>
<path d="M593.9,261.7 596.0,262.2 621.1,136.1 619.2,135.9z" fill="#888888"/>
<path d="M595.3,262.1 597.4,262.6 622.4,136.3 620.5,136.1z" fill="#7b7b7b"/>
<path d="M596.7,262.4 598.8,262.9 623.6,136.4 621.7,136.2z" fill="#838383"/>
<path d="M598.1,262.7 600.2,263.3 624.9,136.6 623.0,136.4z" fill="#818181"/>
<path d="M599.5,263.1 601.6,263.6 626.1,136.7 624.2,136.5z" fill="#6d6d6d"/>
<path d="M600.8,263.4 603.0,264.0 627.3,136.9 625.4,136.6z" fill="#717171"/>
<path d="M602.2,263.8 604.4,264.3 628.6,137.0 626.7,136.8z" fill="#656565"/>
<path d="M603.6,264.1 605.8,264.6 629.8,137.2 627.9,137.0z" fill="#747474"/>
<path d="M605.0,264.5 607.1,264.9 631.1,137.3 629.2,137.1z" fill="#6c6c6c"/>
<path d="M606.4,264.8 608.5,265.2 632.3,137.5 630.4,137.3z" fill="#6f6f6f"/>
<path d="M607.8,265.0 609.9,265.5 633.5,137.6 631.6,137.4z" fill="#525252"/>
<path d="M609.2,265.3 611.3,265.7 634.8,137.8 632.9,137.6z" fill="#616161"/>
<path d="M610.6,265.6 612.7,266.0 636.0,138.0 634.1,137.7z" fill="#616161"/>
<path d="M612.0,265.9 614.1,266.3 637.3,138.1 635.4,137.9z" fill="#7c7c7c"/>
<path d="M613.4,266.1 615.5,266.6 638.5,138.2 636.6,138.0z" fill="#888888"/>
<path d="M614.8,266.4 616.9,266.8 639.8,138.3 637.9,138.2z" fill="#7e7e7e"/>
<path d="M616.1,266.7 618.3,267.1 641.0,138.4 639.1,138.3z" fill="#747474"/>
<path d="M617.5,267.0 619.7,267.4 642.2,138.5 640.3,138.4z" fill="#a9a9a9"/>
<path d="M618.9,267.3 621.1,267.7 643.5,138.6 641.6,138.4z" fill="#7e7e7e"/>
<path d="M620.3,267.6 622.4,268.1 644.7,138.7 642.8,138.5z" fill="#a1a1a1"/>
<path d="M621.7,267.9 623.1,268.2 645.3,138.7 644.1,138.6z" fill="#acacac"/>
</g>
<g style="mix-blend-mode:hard-light">
<g clip-path="url(#seg0)"><g transform="matrix(0.9883 0.1527 0.5600 -0.8285 124.50 172.80)"><rect x="-40" y="-20" width="153" height="165" filter="url(#aniso0)" opacity="1.00"/></g></g>
<g clip-path="url(#seg1)"><g transform="matrix(0.9801 0.1987 0.4887 -0.8724 197.00 184.00)"><rect x="-40" y="-20" width="146" height="162" filter="url(#aniso1)" opacity="1.00"/></g></g>
<g clip-path="url(#seg2)"><g transform="matrix(0.9879 0.1550 0.4480 -0.8940 262.60 197.30)"><rect x="-40" y="-20" width="152" height="163" filter="url(#aniso2)" opacity="1.00"/></g></g>
<g clip-path="url(#seg3)"><g transform="matrix(0.9823 0.1875 0.3948 -0.9188 334.60 208.60)"><rect x="-40" y="-20" width="154" height="164" filter="url(#aniso0)" opacity="1.00"/></g></g>
<g clip-path="url(#seg4)"><g transform="matrix(0.9884 0.1517 0.3297 -0.9441 407.40 222.50)"><rect x="-40" y="-20" width="157" height="165" filter="url(#aniso1)" opacity="1.00"/></g></g>
<g clip-path="url(#seg5)"><g transform="matrix(0.9856 0.1689 0.2594 -0.9658 484.30 234.30)"><rect x="-40" y="-20" width="158" height="166" filter="url(#aniso2)" opacity="1.00"/></g></g>
<g clip-path="url(#seg6)"><g transform="matrix(0.9478 0.3190 0.1972 -0.9804 561.90 247.60)"><rect x="-40" y="-20" width="144" height="169" filter="url(#aniso0)" opacity="1.00"/></g></g>
</g>
</g>
</g>
<ellipse cx="529.4" cy="150.5" rx="11.0" ry="10.0" fill="url(#pit)"/>
<ellipse cx="512.0" cy="218.0" rx="8.8" ry="8.0" fill="url(#pit)"/>
<ellipse cx="493.0" cy="133.2" rx="4.4" ry="4.0" fill="url(#pit)"/>
<ellipse cx="387.7" cy="183.0" rx="4.4" ry="4.0" fill="url(#pit)"/>
<ellipse cx="424.0" cy="186.9" rx="4.4" ry="4.0" fill="url(#pit)"/>
<ellipse cx="437.5" cy="190.7" rx="3.9" ry="3.5" fill="url(#pit)"/>
<ellipse cx="506.4" cy="223.3" rx="4.4" ry="4.0" fill="url(#pit)"/>
<ellipse cx="516.0" cy="211.8" rx="3.9" ry="3.5" fill="url(#pit)"/>
<ellipse cx="412.6" cy="129.4" rx="3.9" ry="3.5" fill="url(#pit)"/>
<ellipse cx="460.5" cy="162.0" rx="3.3" ry="3.0" fill="url(#pit)"/>
<ellipse cx="292.6" cy="187.4" rx="3.9" ry="3.5" fill="url(#pit)"/>
<ellipse cx="357.7" cy="214.2" rx="3.9" ry="3.5" fill="url(#pit)"/>
<ellipse cx="385.8" cy="183.6" rx="3.3" ry="3.0" fill="url(#pit)"/>
<ellipse cx="316.8" cy="107.0" rx="3.3" ry="3.0" fill="url(#pit)"/>
<ellipse cx="420.3" cy="136.3" rx="3.3" ry="3.0" fill="url(#pit)"/>
<path d="M194.5,79 L200.5,99 L203.5,98 L197.5,77z" fill="#1e1e1e" opacity="0.85"/>
</g>
<path d="M174.8,122.8 195.7,126.5 226.3,131.1 238.6,133.2 257.0,135.7 281.5,138.1 293.7,141.2 303.0,142.4 324.4,144.8 348.9,149.4 361.2,151.0 379.6,154.0 395.0,156.6 426.9,161.7 458.9,167.1 490.8,171.3 503.6,171.9 522.7,176.7 554.6,181.5 586.6,186.3 618.5,191.1 632.9,193.6 631.3,204.8 618.5,203.9 599.3,202.3 586.6,197.5 580.2,191.7 573.8,192.7 554.6,193.6 532.3,191.1 516.3,187.9 506.7,181.5 500.4,180.9 490.8,181.5 478.0,183.1 458.9,179.9 446.1,175.8 436.5,170.3 423.7,168.7 414.2,171.3 405.0,170.9 391.8,169.4 373.4,164.8 364.2,160.2 356.6,156.5 348.9,158.6 336.6,157.7 312.1,155.6 299.9,152.5 293.7,147.9 287.6,146.4 278.4,149.4 257.0,147.3 240.1,144.2 232.4,139.3 220.2,138.1 195.7,136.3 177.3,135.0z" fill="#dfe0b6" fill-opacity="0.66"/>
<g stroke="#b999b3" stroke-width="1" fill="none">
<line x1="202.3" y1="65.2" x2="668.3" y2="130.2" />
<line x1="109.2" y1="181.1" x2="625.0" y2="270.7" />
<line x1="647.7" y1="143.5" x2="665.2" y2="146.7" />
<line x1="648.4" y1="126.0" x2="622.1" y2="286.4" />
<line x1="131.5" y1="176.7" x2="117.5" y2="196.1" />
<line x1="195.9" y1="187.6" x2="187.4" y2="202.2" />
<line x1="263.1" y1="198.5" x2="255.3" y2="214.3" />
<line x1="333.9" y1="208.6" x2="326.1" y2="227.3" />
<line x1="406.2" y1="222.5" x2="399.4" y2="240.2" />
<line x1="482.3" y1="234.3" x2="473.3" y2="261.0" />
<line x1="559.0" y1="248.8" x2="555.4" y2="268.2" />
</g>
<path transform="translate(123.60,68.90) scale(0.870,0.743)" d="M9,0.8 H1.2 V6.2 H6.8 Q9.2,6.2 9.2,8.6 V11 Q9.2,13.2 7,13.2 H3 Q0.8,13.2 0.8,11.4" fill="none" stroke="#fbf5fa" stroke-width="1.70" vector-effect="non-scaling-stroke" stroke-linejoin="round" stroke-linecap="square"/>
<path transform="translate(133.35,68.90) scale(0.870,0.743)" d="M2.4,3.2 L5.4,0.8 V13.2 M2.2,13.2 H8.2" fill="none" stroke="#fbf5fa" stroke-width="1.70" vector-effect="non-scaling-stroke" stroke-linejoin="round" stroke-linecap="square"/>
<path transform="translate(143.10,68.90) scale(0.870,0.743)" d="M0.8,2.6 Q0.8,0.8 3,0.8 H7 Q9.2,0.8 9.2,3 V4.2 Q9.2,6.6 6.5,6.6 H4 M6.5,6.6 Q9.2,6.6 9.2,9 V11 Q9.2,13.2 7,13.2 H3 Q0.8,13.2 0.8,11.4" fill="none" stroke="#fbf5fa" stroke-width="1.70" vector-effect="non-scaling-stroke" stroke-linejoin="round" stroke-linecap="square"/>
<path transform="translate(152.85,68.90) scale(0.870,0.743)" d="M1.8,11 h2.5 v3 h-2.5z" fill="#fbf5fa"/>
<path transform="translate(162.60,68.90) scale(0.870,0.743)" d="M0.8,3 Q0.8,0.8 3,0.8 H7 Q9.2,0.8 9.2,3 V4 Q9.2,6 7,7.2 L1,12 V13.2 H9.4" fill="none" stroke="#fbf5fa" stroke-width="1.70" vector-effect="non-scaling-stroke" stroke-linejoin="round" stroke-linecap="square"/>
<path transform="translate(47.40,167.80) scale(1.060,0.964)" d="M2,0.8 H8 Q9.2,0.8 9.2,2 V12 Q9.2,13.2 8,13.2 H2 Q0.8,13.2 0.8,12 V2 Q0.8,0.8 2,0.8z" fill="none" stroke="#fbf5fa" stroke-width="2.00" vector-effect="non-scaling-stroke" stroke-linejoin="round" stroke-linecap="square"/>
<path transform="translate(58.20,167.80) scale(1.060,0.964)" d="M1.8,11 h2.5 v3 h-2.5z" fill="#fbf5fa"/>
<path transform="translate(69.00,167.80) scale(1.060,0.964)" d="M2,0.8 H8 Q9.2,0.8 9.2,2 V12 Q9.2,13.2 8,13.2 H2 Q0.8,13.2 0.8,12 V2 Q0.8,0.8 2,0.8z" fill="none" stroke="#fbf5fa" stroke-width="2.00" vector-effect="non-scaling-stroke" stroke-linejoin="round" stroke-linecap="square"/>
<path transform="translate(72.60,228.60) scale(1.090,0.943)" d="M2,0.8 H8 Q9.2,0.8 9.2,2 V12 Q9.2,13.2 8,13.2 H2 Q0.8,13.2 0.8,12 V2 Q0.8,0.8 2,0.8z" fill="none" stroke="#fbf5fa" stroke-width="2.00" vector-effect="non-scaling-stroke" stroke-linejoin="round" stroke-linecap="square"/>
<path transform="translate(84.40,228.60) scale(1.090,0.943)" d="M1.8,11 h2.5 v3 h-2.5z" fill="#fbf5fa"/>
<path transform="translate(96.20,228.60) scale(1.090,0.943)" d="M2,0.8 H8 Q9.2,0.8 9.2,2 V12 Q9.2,13.2 8,13.2 H2 Q0.8,13.2 0.8,12 V2 Q0.8,0.8 2,0.8z" fill="none" stroke="#fbf5fa" stroke-width="2.00" vector-effect="non-scaling-stroke" stroke-linejoin="round" stroke-linecap="square"/>
<path transform="translate(421.80,296.50) scale(1.100,1.143)" d="M2.4,3.2 L5.4,0.8 V13.2 M2.2,13.2 H8.2" fill="none" stroke="#fbf5fa" stroke-width="2.10" vector-effect="non-scaling-stroke" stroke-linejoin="round" stroke-linecap="square"/>
<path transform="translate(434.70,296.50) scale(1.100,1.143)" d="M2,0.8 H8 Q9.2,0.8 9.2,2 V12 Q9.2,13.2 8,13.2 H2 Q0.8,13.2 0.8,12 V2 Q0.8,0.8 2,0.8z" fill="none" stroke="#fbf5fa" stroke-width="2.10" vector-effect="non-scaling-stroke" stroke-linejoin="round" stroke-linecap="square"/>
<path transform="translate(447.60,296.50) scale(1.100,1.143)" d="M2,0.8 H8 Q9.2,0.8 9.2,2 V12 Q9.2,13.2 8,13.2 H2 Q0.8,13.2 0.8,12 V2 Q0.8,0.8 2,0.8z" fill="none" stroke="#fbf5fa" stroke-width="2.10" vector-effect="non-scaling-stroke" stroke-linejoin="round" stroke-linecap="square"/>
<path transform="translate(460.50,296.50) scale(1.100,1.143)" d="M2,0.8 H8 Q9.2,0.8 9.2,2 V12 Q9.2,13.2 8,13.2 H2 Q0.8,13.2 0.8,12 V2 Q0.8,0.8 2,0.8z" fill="none" stroke="#fbf5fa" stroke-width="2.10" vector-effect="non-scaling-stroke" stroke-linejoin="round" stroke-linecap="square"/>
<path transform="translate(473.40,296.50) scale(1.100,1.143)" d="M1.8,11 h2.5 v3 h-2.5z" fill="#fbf5fa"/>
<path transform="translate(486.30,296.50) scale(1.100,1.143)" d="M2,0.8 H8 Q9.2,0.8 9.2,2 V12 Q9.2,13.2 8,13.2 H2 Q0.8,13.2 0.8,12 V2 Q0.8,0.8 2,0.8z" fill="none" stroke="#fbf5fa" stroke-width="2.10" vector-effect="non-scaling-stroke" stroke-linejoin="round" stroke-linecap="square"/>
<path transform="translate(689.30,122.40) scale(1.020,0.921)" d="M2.4,3.2 L5.4,0.8 V13.2 M2.2,13.2 H8.2" fill="none" stroke="#fbf5fa" stroke-width="1.90" vector-effect="non-scaling-stroke" stroke-linejoin="round" stroke-linecap="square"/>
<path transform="translate(700.40,122.40) scale(1.020,0.921)" d="M0.8,2.6 Q0.8,0.8 3,0.8 H7 Q9.2,0.8 9.2,3 V4.2 Q9.2,6.6 6.5,6.6 H4 M6.5,6.6 Q9.2,6.6 9.2,9 V11 Q9.2,13.2 7,13.2 H3 Q0.8,13.2 0.8,11.4" fill="none" stroke="#fbf5fa" stroke-width="1.90" vector-effect="non-scaling-stroke" stroke-linejoin="round" stroke-linecap="square"/>
<path transform="translate(711.50,122.40) scale(1.020,0.921)" d="M1.8,11 h2.5 v3 h-2.5z" fill="#fbf5fa"/>
<path transform="translate(722.60,122.40) scale(1.020,0.921)" d="M0.8,2.6 Q0.8,0.8 3,0.8 H7 Q9.2,0.8 9.2,3 V4.2 Q9.2,6.6 6.5,6.6 H4 M6.5,6.6 Q9.2,6.6 9.2,9 V11 Q9.2,13.2 7,13.2 H3 Q0.8,13.2 0.8,11.4" fill="none" stroke="#fbf5fa" stroke-width="1.90" vector-effect="non-scaling-stroke" stroke-linejoin="round" stroke-linecap="square"/>


<rect x="87" y="359.5" width="535.2" height="96.5" fill="#231815"/>
<g stroke="#fff" stroke-width="1">
<line x1="87" y1="380.5" x2="96" y2="380.5"/>
<line x1="87" y1="405.4" x2="96" y2="405.4" stroke="#bbb"/>
<line x1="87" y1="431.3" x2="96" y2="431.3"/>
<line x1="275.5" y1="448" x2="275.5" y2="456"/>
<line x1="370.4" y1="448" x2="370.4" y2="456"/>
<line x1="464.5" y1="448" x2="464.5" y2="456"/>
<line x1="559.5" y1="448" x2="559.5" y2="456"/>
</g>
<line x1="292.5" y1="359.5" x2="292.5" y2="457.0" stroke="#e8a88c" stroke-width="1.1" stroke-dasharray="2,1.2"/>
<line x1="422.4" y1="359.5" x2="422.4" y2="457.0" stroke="#e0532a" stroke-width="1.1" stroke-dasharray="2,1.2"/>
<line x1="459.5" y1="359.5" x2="459.5" y2="457.0" stroke="#a87c9c" stroke-width="1.1" stroke-dasharray="2,1.2"/>
<line x1="562.5" y1="359.5" x2="562.5" y2="457.0" stroke="#9c7ca4" stroke-width="1.1" stroke-dasharray="2,1.2"/>
<path d="M132.2,457.2 132.2,422.2 133.1,422.2 134.7,423.0 136.4,426.3 138.0,418.0 139.7,404.8 141.0,398.1 142.2,392.3 143.8,396.5 145.5,398.9 147.2,403.9 148.8,411.4 150.5,418.8 152.1,423.8 154.6,427.1 157.1,429.6 159.6,433.8 162.1,430.5 164.6,428.0 167.1,426.3 169.6,423.0 171.7,418.0 173.3,418.8 175.0,413.0 176.3,408.1 177.5,394.8 178.6,406.4 180.0,409.7 181.6,412.2 183.3,421.3 184.9,426.3 186.6,428.0 189.1,426.3 191.6,422.2 194.0,424.7 195.7,420.5 197.4,412.2 199.0,408.9 200.7,423.0 202.3,425.5 204.0,420.5 205.7,426.3 207.3,437.1 209.0,428.0 210.6,430.5 212.8,424.7 214.8,430.5 217.3,421.3 218.9,417.2 221.4,418.0 223.1,412.2 224.7,404.8 227.2,408.1 228.9,410.6 230.5,412.2 232.2,412.2 233.8,418.8 235.5,411.4 237.2,406.4 238.8,402.3 240.5,408.1 242.1,414.7 243.8,417.2 245.5,420.5 247.1,426.3 248.8,422.2 251.3,423.0 253.7,421.3 255.4,418.8 257.1,414.7 258.6,414.7 259.0,415.4 259.0,457.2z" fill="#ffdc0a"/>
<rect x="132.0" y="357.6" width="2.2" height="100" fill="#ffdc0a"/>
<rect x="257.9" y="357.6" width="1.5" height="100" fill="#ffdc0a"/>
<path d="M87.1,423.0 88.0,433.8 89.1,428.0 90.0,432.9 91.3,429.6 92.4,432.1 94.1,428.0 96.6,425.5 99.1,422.2 101.6,417.2 104.0,412.2 105.7,414.7 107.4,421.3 109.0,425.5 111.5,428.0 113.2,430.5 114.8,424.7 116.5,414.7 118.5,412.2 119.8,408.1 121.1,403.9 122.8,409.7 124.4,417.2 126.1,423.8 127.8,428.0 129.8,426.3 131.4,422.2 133.1,422.2 134.7,423.0 136.4,426.3 138.0,418.0 139.7,404.8 141.0,398.1 142.2,392.3 143.8,396.5 145.5,398.9 147.2,403.9 148.8,411.4 150.5,418.8 152.1,423.8 154.6,427.1 157.1,429.6 159.6,433.8 162.1,430.5 164.6,428.0 167.1,426.3 169.6,423.0 171.7,418.0 173.3,418.8 175.0,413.0 176.3,408.1 177.5,394.8 178.6,406.4 180.0,409.7 181.6,412.2 183.3,421.3 184.9,426.3 186.6,428.0 189.1,426.3 191.6,422.2 194.0,424.7 195.7,420.5 197.4,412.2 199.0,408.9 200.7,423.0 202.3,425.5 204.0,420.5 205.7,426.3 207.3,437.1 209.0,428.0 210.6,430.5 212.8,424.7 214.8,430.5 217.3,421.3 218.9,417.2 221.4,418.0 223.1,412.2 224.7,404.8 227.2,408.1 228.9,410.6 230.5,412.2 232.2,412.2 233.8,418.8 235.5,411.4 237.2,406.4 238.8,402.3 240.5,408.1 242.1,414.7 243.8,417.2 245.5,420.5 247.1,426.3 248.8,422.2 251.3,423.0 253.7,421.3 255.4,418.8 257.1,414.7 258.6,414.7 260.0,417.2 261.6,424.7 263.3,430.5 265.0,428.0 266.6,432.1 269.1,428.0 271.6,422.2 273.6,429.6 274.9,430.5 276.6,418.0 277.9,412.2 279.5,418.0 281.2,424.7 282.9,432.1 284.5,426.3 286.5,424.7 288.2,423.0 290.2,421.3 292.3,419.7 294.0,413.0 295.6,399.8 297.3,394.8 298.4,400.6 299.8,409.7 301.4,406.4 303.1,412.2 304.4,418.0 305.6,428.0 307.2,421.3 308.9,416.4 311.1,413.0 313.0,415.5 314.7,418.0 316.7,418.0 318.0,426.3 319.7,432.1 321.0,437.1 322.7,430.5 324.7,428.8 326.6,429.6 328.8,430.5 330.5,428.0 332.1,421.3 333.8,416.4 335.4,404.8 337.1,403.9 338.7,407.2 341.2,413.0 343.2,403.9 345.4,413.0 346.7,414.7 348.0,412.2 349.6,417.2 351.3,423.8 353.0,416.4 354.6,418.8 356.3,424.7 358.3,425.5 360.3,423.0 361.9,431.3 363.6,430.5 365.7,426.3 367.1,421.3 368.2,434.6 369.9,442.9 371.2,445.4 372.9,439.6 374.0,423.8 375.7,423.0 377.3,422.2 379.0,418.8 380.7,418.0 382.3,411.4 384.0,403.1 385.6,388.2 387.3,380.7 388.4,379.0 389.8,382.4 391.1,393.1 392.8,399.8 394.4,408.1 396.1,414.7 397.7,418.0 399.4,428.0 401.4,441.2 402.7,432.1 404.4,428.0 406.0,426.3 408.0,428.0 410.0,429.6 411.3,426.3 413.0,431.3 414.3,426.3 416.0,432.1 417.6,436.3 419.3,430.5 421.0,432.9 422.6,436.3 424.3,442.1 425.9,436.3 427.9,434.6 428.7,428.0 429.9,432.9 431.2,446.2 432.9,434.6 434.6,429.6 436.7,418.0 438.0,426.3 439.6,436.3 441.3,421.3 443.0,409.7 444.6,394.8 446.3,401.4 447.9,408.1 449.9,413.0 451.6,421.3 452.9,426.3 454.6,414.7 455.7,409.7 456.9,421.3 458.2,419.7 459.5,401.4 461.2,404.8 462.9,406.4 464.5,411.4 466.5,413.0 468.2,408.1 470.2,401.4 471.8,411.4 473.1,423.0 474.8,431.3 476.1,437.1 477.8,423.0 479.4,431.3 481.4,432.1 482.8,416.4 483.9,398.1 485.1,389.8 486.4,399.8 487.7,418.0 488.9,424.7 490.6,418.8 492.2,416.4 494.4,418.8 496.4,421.3 498.3,423.8 499.7,426.3 500.5,437.1 501.7,432.1 504.7,432.1 509.6,432.1 515.4,432.1 516.6,437.9 517.9,431.3 519.6,423.8 521.2,429.6 522.6,432.9 523.7,423.0 525.4,418.0 526.3,404.8 527.5,388.2 528.6,360.8 530.0,369.9 531.6,388.2 533.3,403.1 535.0,411.4 537.4,416.4 539.1,418.0 540.3,429.6 541.6,433.8 543.2,428.0 544.9,424.7 545.7,431.3 546.6,404.8 547.4,384.9 548.5,380.7 549.5,398.1 550.7,413.0 552.4,417.2 554.0,418.0 555.7,428.0 556.8,429.6 558.2,425.5 559.8,427.1 561.5,427.1 563.1,424.7 564.8,421.3 566.1,429.6 567.3,436.3 568.9,430.5 570.6,432.1 573.1,431.3 574.4,431.3 575.6,441.2 577.2,447.0 578.4,441.2 579.7,437.1 582.2,435.4 583.9,429.6 585.5,424.7 587.7,415.5 588.8,422.2 590.5,422.2 591.3,391.5 592.7,374.1 593.8,372.4 595.0,378.2 596.3,393.1 597.6,404.8 598.3,435.4 599.6,428.0 601.0,422.2 602.9,422.2 604.6,426.3 605.9,431.3 607.6,431.3 608.7,421.3 609.9,409.7 611.2,396.5 612.9,384.9 614.1,389.8 615.4,403.9 617.0,408.1 618.7,412.2 619.9,421.3 620.9,432.1 621.7,454.5" fill="none" stroke="#43b4e2" stroke-width="1.15" stroke-linejoin="round"/>
<g font-family="Liberation Sans, sans-serif" fill="#231815" opacity="0.999">
<text x="52.8" y="389.3" font-size="10.80" textLength="22.2" lengthAdjust="spacingAndGlyphs" text-anchor="start" >1.747</text>
<text x="52.8" y="414.0" font-size="10.80" textLength="22.2" lengthAdjust="spacingAndGlyphs" text-anchor="start" >1.647</text>
<text x="52.8" y="439.6" font-size="10.80" textLength="22.2" lengthAdjust="spacingAndGlyphs" text-anchor="start" >1.547</text>
<text x="52.8" y="464.6" font-size="10.80" textLength="22.2" lengthAdjust="spacingAndGlyphs" text-anchor="start" >1.447</text>
<text x="88.0" y="473.5" font-size="9.80" textLength="20.5" lengthAdjust="spacingAndGlyphs" text-anchor="start" >0.000</text>
<text x="183.0" y="473.5" font-size="9.80" textLength="25.6" lengthAdjust="spacingAndGlyphs" text-anchor="start" >50.000</text>
<text x="276.8" y="473.5" font-size="9.80" textLength="32.3" lengthAdjust="spacingAndGlyphs" text-anchor="start" >100.000</text>
<text x="371.6" y="473.5" font-size="9.80" textLength="31.8" lengthAdjust="spacingAndGlyphs" text-anchor="start" >150.000</text>
<text x="465.6" y="473.5" font-size="9.80" textLength="33.0" lengthAdjust="spacingAndGlyphs" text-anchor="start" >200.000</text>
<text x="560.6" y="473.5" font-size="9.80" textLength="31.8" lengthAdjust="spacingAndGlyphs" text-anchor="start" >250.000</text>
<text x="623.6" y="459.6" font-size="8.50" textLength="11.8" lengthAdjust="spacingAndGlyphs" text-anchor="start" >um</text>
</g>

<rect x="640" y="360.5" width="94.2" height="94.9" fill="#231815"/>
<path d="M640.0,376.6 641.3,383.2 642.5,390.7 644.1,396.5 646.6,401.4 649.9,405.6 654.1,408.9 659.0,412.2 664.9,415.0 671.5,417.7 679.8,420.5 688.1,423.0 696.4,425.5 704.7,427.5 712.9,429.6 721.2,431.3 727.0,433.3 731.2,436.3 733.7,441.2 734.2,445.4" fill="none" stroke="#f0825a" stroke-width="0.9"/>
<g fill="#2a8fd6">
<rect x="639.7" y="360.5" width="1.1" height="96"/>
<rect x="639.6" y="372.5" width="3.6" height="1.5" />
<rect x="640.0" y="375.0" width="2.0" height="1.5" />
<rect x="640.8" y="379.1" width="1.7" height="1.5" />
<rect x="641.3" y="382.4" width="1.7" height="1.5" />
<rect x="641.6" y="388.2" width="2.5" height="1.5" />
<rect x="643.3" y="394.1" width="6.6" height="1.5" />
<rect x="644.1" y="396.5" width="7.5" height="1.5" />
<rect x="645.8" y="399.4" width="5.0" height="1.5" />
<rect x="649.1" y="402.3" width="4.1" height="1.5" />
<rect x="650.8" y="404.0" width="6.6" height="1.5" />
<rect x="653.2" y="406.5" width="6.6" height="1.5" />
<rect x="655.7" y="408.1" width="6.6" height="1.5" />
<rect x="659.9" y="410.6" width="14.9" height="1.5" />
<rect x="662.4" y="412.3" width="9.1" height="1.5" />
<rect x="664.9" y="414.3" width="5.8" height="1.5" />
<rect x="670.7" y="416.4" width="18.2" height="1.5" />
<rect x="672.3" y="418.1" width="10.8" height="1.5" />
<rect x="674.8" y="419.8" width="10.0" height="1.5" />
<rect x="683.1" y="421.4" width="16.6" height="1.5" />
<rect x="683.9" y="423.1" width="25.7" height="1.5" />
<rect x="688.1" y="424.7" width="22.4" height="1.5" />
<rect x="678.9" y="425.9" width="36.5" height="1.5" />
<rect x="684.8" y="427.2" width="21.6" height="1.5" />
<rect x="686.4" y="428.9" width="13.3" height="1.5" />
<rect x="679.8" y="430.2" width="19.1" height="1.5" />
<rect x="655.7" y="433.0" width="9.1" height="1.5" />
<rect x="652.4" y="434.7" width="9.1" height="1.5" />
<rect x="651.6" y="436.3" width="8.3" height="1.5" />
<rect x="642.5" y="441.3" width="3.3" height="1.5" />
<rect x="641.6" y="443.8" width="2.5" height="1.5" />
<rect x="640.0" y="446.3" width="2.5" height="1.5" />
<rect x="639.6" y="449.6" width="1.7" height="1.5" />
<rect x="639.6" y="452.9" width="1.3" height="1.5" />
</g>
<path d="M698.0,432.1 L659.9,432.3 L652.4,438.4 L643.3,438.4 L643.3,442.9" fill="none" stroke="#7f93a8" stroke-width="0.9"/>


<g font-family="Liberation Sans, sans-serif" opacity="0.999">
<rect x="52.0" y="486.5" width="682.0" height="54.3" fill="#fff"/>
<rect x="52.0" y="486.5" width="682.0" height="12.9" fill="#a9d5f5"/>
<rect x="52.0" y="486.5" width="80.0" height="54.3" fill="#a9d5f5"/>
<text x="92.0" y="495.6" font-size="10.70" textLength="43.6" lengthAdjust="spacingAndGlyphs" text-anchor="middle" fill="#111" stroke="#111" stroke-width="0.25">Profile 1</text>
<text x="174.0" y="495.6" font-size="10.70" textLength="26.0" lengthAdjust="spacingAndGlyphs" text-anchor="middle" fill="#111" stroke="#111" stroke-width="0.25">R &#948; c</text>
<text x="259.0" y="495.6" font-size="10.70" textLength="21.0" lengthAdjust="spacingAndGlyphs" text-anchor="middle" fill="#111" stroke="#111" stroke-width="0.25">Rmr</text>
<text x="350.8" y="495.6" font-size="10.70" textLength="34.0" lengthAdjust="spacingAndGlyphs" text-anchor="middle" fill="#111" stroke="#111" stroke-width="0.25">Rmr(c)</text>
<text x="444.2" y="495.6" font-size="10.70" textLength="21.0" lengthAdjust="spacingAndGlyphs" text-anchor="middle" fill="#111" stroke="#111" stroke-width="0.25">RPc</text>
<text x="536.0" y="495.6" font-size="10.70" textLength="31.5" lengthAdjust="spacingAndGlyphs" text-anchor="middle" fill="#111" stroke="#111" stroke-width="0.25">RHSC</text>
<text x="608.2" y="495.6" font-size="10.70" textLength="13.6" lengthAdjust="spacingAndGlyphs" text-anchor="middle" fill="#111" stroke="#111" stroke-width="0.25">Rk</text>
<text x="658.8" y="495.6" font-size="10.70" textLength="19.8" lengthAdjust="spacingAndGlyphs" text-anchor="middle" fill="#111" stroke="#111" stroke-width="0.25">Rpk</text>
<text x="709.0" y="495.6" font-size="10.70" textLength="19.2" lengthAdjust="spacingAndGlyphs" text-anchor="middle" fill="#111" stroke="#111" stroke-width="0.25">Rvk</text>
<text x="92.0" y="509.6" font-size="10.70" textLength="12.4" lengthAdjust="spacingAndGlyphs" text-anchor="middle" fill="#111" stroke="#111" stroke-width="0.25">All</text>
<text x="214.4" y="509.6" font-size="10.70" textLength="42.5" lengthAdjust="spacingAndGlyphs" text-anchor="end" fill="#111" stroke="#111" stroke-width="0.25">1.018um</text>
<text x="300.4" y="509.6" font-size="10.70" textLength="37.0" lengthAdjust="spacingAndGlyphs" text-anchor="end" fill="#111" stroke="#111" stroke-width="0.25">50.00%</text>
<text x="397.9" y="509.6" font-size="10.70" textLength="30.9" lengthAdjust="spacingAndGlyphs" text-anchor="end" fill="#111" stroke="#111" stroke-width="0.25">0.00%</text>
<text x="487.4" y="509.6" font-size="10.70" textLength="43.7" lengthAdjust="spacingAndGlyphs" text-anchor="end" fill="#111" stroke="#111" stroke-width="0.25">56pieces</text>
<text x="581.4" y="509.6" font-size="10.70" textLength="43.7" lengthAdjust="spacingAndGlyphs" text-anchor="end" fill="#111" stroke="#111" stroke-width="0.25">43pieces</text>
<text x="631.9" y="509.6" font-size="10.70" textLength="42.5" lengthAdjust="spacingAndGlyphs" text-anchor="end" fill="#111" stroke="#111" stroke-width="0.25">1.853um</text>
<text x="682.4" y="509.6" font-size="10.70" textLength="42.5" lengthAdjust="spacingAndGlyphs" text-anchor="end" fill="#111" stroke="#111" stroke-width="0.25">1.529um</text>
<text x="732.4" y="509.6" font-size="10.70" textLength="42.5" lengthAdjust="spacingAndGlyphs" text-anchor="end" fill="#111" stroke="#111" stroke-width="0.25">0.932um</text>
<text x="92.0" y="523.5" font-size="10.70" textLength="58.1" lengthAdjust="spacingAndGlyphs" text-anchor="middle" fill="#111" stroke="#111" stroke-width="0.25">Parameter1</text>
<text x="214.4" y="523.5" font-size="10.70" textLength="79.2" lengthAdjust="spacingAndGlyphs" text-anchor="end" fill="#111" stroke="#111" stroke-width="0.25">Ref. mr=25.00%</text>
<text x="300.4" y="523.5" font-size="10.70" textLength="79.2" lengthAdjust="spacingAndGlyphs" text-anchor="end" fill="#111" stroke="#111" stroke-width="0.25">Ref. mr=50.00%</text>
<text x="396.4" y="523.5" font-size="10.70" textLength="13.5" lengthAdjust="spacing" text-anchor="end" fill="#111">&#183;&#183;&#183;</text><text x="381.7" y="523.5" font-size="10.70" textLength="76.1" lengthAdjust="spacingAndGlyphs" text-anchor="end" fill="#111" stroke="#111" stroke-width="0.25">Cut level=0.000</text>
<text x="485.9" y="523.5" font-size="10.70" textLength="13.5" lengthAdjust="spacing" text-anchor="end" fill="#111">&#183;&#183;&#183;</text><text x="471.2" y="523.5" font-size="10.70" textLength="64.6" lengthAdjust="spacingAndGlyphs" text-anchor="end" fill="#111" stroke="#111" stroke-width="0.25">D.Z. width=5.</text>
<text x="581.4" y="523.5" font-size="10.70" textLength="85.8" lengthAdjust="spacingAndGlyphs" text-anchor="end" fill="#111" stroke="#111" stroke-width="0.25">Cut level=50.00%</text>



<text x="92.0" y="537.0" font-size="10.70" textLength="58.1" lengthAdjust="spacingAndGlyphs" text-anchor="middle" fill="#111" stroke="#111" stroke-width="0.25">Parameter2</text>
<text x="212.9" y="537.0" font-size="10.70" textLength="13.5" lengthAdjust="spacing" text-anchor="end" fill="#111">&#183;&#183;&#183;</text><text x="198.2" y="537.0" font-size="10.70" textLength="60.3" lengthAdjust="spacingAndGlyphs" text-anchor="end" fill="#111" stroke="#111" stroke-width="0.25">Comp. mr=7</text>
<text x="298.9" y="537.0" font-size="10.70" textLength="13.5" lengthAdjust="spacing" text-anchor="end" fill="#111">&#183;&#183;&#183;</text><text x="284.2" y="537.0" font-size="10.70" textLength="62.0" lengthAdjust="spacingAndGlyphs" text-anchor="end" fill="#111" stroke="#111" stroke-width="0.25">Lvl. diff=0.00</text>






<g stroke="#2b2b2b" stroke-width="1" fill="none">
<line x1="52.0" y1="486.5" x2="735.0" y2="486.5"/>
<line x1="52.0" y1="499.5" x2="735.0" y2="499.5"/>
<line x1="52.0" y1="513.5" x2="735.0" y2="513.5"/>
<line x1="52.0" y1="527.5" x2="735.0" y2="527.5"/>
<line x1="52.0" y1="540.5" x2="735.0" y2="540.5"/>
<line x1="52.5" y1="486.5" x2="52.5" y2="540.8"/>
<line x1="132.5" y1="486.5" x2="132.5" y2="540.8"/>
<line x1="216.5" y1="486.5" x2="216.5" y2="540.8"/>
<line x1="302.5" y1="486.5" x2="302.5" y2="540.8"/>
<line x1="399.5" y1="486.5" x2="399.5" y2="540.8"/>
<line x1="489.5" y1="486.5" x2="489.5" y2="540.8"/>
<line x1="583.5" y1="486.5" x2="583.5" y2="540.8"/>
<line x1="633.5" y1="486.5" x2="633.5" y2="540.8"/>
<line x1="684.5" y1="486.5" x2="684.5" y2="540.8"/>
<line x1="734.5" y1="486.5" x2="734.5" y2="540.8"/>
</g>
<rect x="51.5" y="557.0" width="682.0" height="46.6" fill="#fff"/>
<rect x="51.5" y="557.0" width="682.0" height="12.4" fill="#a9d5f5"/>
<rect x="51.5" y="581.3" width="67.2" height="11.5" fill="#fff100"/>
<rect x="51.5" y="592.8" width="67.2" height="10.8" fill="#e60012"/>
<text x="85.1" y="566.0" font-size="9.60" textLength="38.4" lengthAdjust="spacingAndGlyphs" text-anchor="middle" fill="#111" stroke="#111" stroke-width="0.10">Profile 1</text>
<text x="146.3" y="566.0" font-size="9.60" textLength="12.9" lengthAdjust="spacingAndGlyphs" text-anchor="middle" fill="#111" stroke="#111" stroke-width="0.10">Rp</text>
<text x="202.2" y="566.0" font-size="9.60" textLength="12.3" lengthAdjust="spacingAndGlyphs" text-anchor="middle" fill="#111" stroke="#111" stroke-width="0.10">Rv</text>
<text x="258.4" y="566.0" font-size="9.60" textLength="29.1" lengthAdjust="spacingAndGlyphs" text-anchor="middle" fill="#111" stroke="#111" stroke-width="0.10">Rz(Rt)</text>
<text x="314.7" y="566.0" font-size="9.60" textLength="12.3" lengthAdjust="spacingAndGlyphs" text-anchor="middle" fill="#111" stroke="#111" stroke-width="0.10">Rc</text>
<text x="370.5" y="566.0" font-size="9.60" textLength="12.9" lengthAdjust="spacingAndGlyphs" text-anchor="middle" fill="#111" stroke="#111" stroke-width="0.10">Ra</text>
<text x="426.0" y="566.0" font-size="9.60" textLength="12.9" lengthAdjust="spacingAndGlyphs" text-anchor="middle" fill="#111" stroke="#111" stroke-width="0.10">Rq</text>
<text x="482.1" y="566.0" font-size="9.60" textLength="17.4" lengthAdjust="spacingAndGlyphs" text-anchor="middle" fill="#111" stroke="#111" stroke-width="0.10">Rsk</text>
<text x="538.5" y="566.0" font-size="9.60" textLength="17.9" lengthAdjust="spacingAndGlyphs" text-anchor="middle" fill="#111" stroke="#111" stroke-width="0.10">Rku</text>
<text x="594.9" y="566.0" font-size="9.60" textLength="24.7" lengthAdjust="spacingAndGlyphs" text-anchor="middle" fill="#111" stroke="#111" stroke-width="0.10">R &#916; q</text>
<text x="650.5" y="566.0" font-size="9.60" textLength="22.4" lengthAdjust="spacingAndGlyphs" text-anchor="middle" fill="#111" stroke="#111" stroke-width="0.10">RSm</text>
<text x="705.8" y="566.0" font-size="9.60" textLength="35.3" lengthAdjust="spacingAndGlyphs" text-anchor="middle" fill="#111" stroke="#111" stroke-width="0.10">RPc/cm</text>
<text x="85.1" y="578.7" font-size="9.40" textLength="11.0" lengthAdjust="spacingAndGlyphs" text-anchor="middle" fill="#111" stroke="#111" stroke-width="0.10">All</text>
<text x="172.6" y="578.7" font-size="9.40" textLength="38.0" lengthAdjust="spacingAndGlyphs" text-anchor="end" fill="#111" stroke="#111" stroke-width="0.10">8.073um</text>
<text x="229.1" y="578.7" font-size="9.40" textLength="38.0" lengthAdjust="spacingAndGlyphs" text-anchor="end" fill="#111" stroke="#111" stroke-width="0.10">4.566um</text>
<text x="285.0" y="578.7" font-size="9.40" textLength="43.5" lengthAdjust="spacingAndGlyphs" text-anchor="end" fill="#111" stroke="#111" stroke-width="0.10">12.638um</text>
<text x="341.6" y="578.7" font-size="9.40" textLength="38.0" lengthAdjust="spacingAndGlyphs" text-anchor="end" fill="#111" stroke="#111" stroke-width="0.10">4.566um</text>
<text x="396.6" y="578.7" font-size="9.40" textLength="38.0" lengthAdjust="spacingAndGlyphs" text-anchor="end" fill="#111" stroke="#111" stroke-width="0.10">0.775um</text>
<text x="452.6" y="578.7" font-size="9.40" textLength="38.0" lengthAdjust="spacingAndGlyphs" text-anchor="end" fill="#111" stroke="#111" stroke-width="0.10">1.104um</text>
<text x="508.9" y="578.7" font-size="9.40" textLength="29.9" lengthAdjust="spacingAndGlyphs" text-anchor="end" fill="#111" stroke="#111" stroke-width="0.10">1.3406</text>
<text x="565.3" y="578.7" font-size="9.40" textLength="35.3" lengthAdjust="spacingAndGlyphs" text-anchor="end" fill="#111" stroke="#111" stroke-width="0.10">10.0562</text>
<text x="621.6" y="578.7" font-size="9.40" textLength="29.9" lengthAdjust="spacingAndGlyphs" text-anchor="end" fill="#111" stroke="#111" stroke-width="0.10">0.7237</text>
<text x="676.6" y="578.7" font-size="9.40" textLength="48.9" lengthAdjust="spacingAndGlyphs" text-anchor="end" fill="#111" stroke="#111" stroke-width="0.10">230.618um</text>
<text x="732.1" y="578.7" font-size="9.40" textLength="29.9" lengthAdjust="spacingAndGlyphs" text-anchor="end" fill="#111" stroke="#111" stroke-width="0.10">43.362</text>
<text x="85.1" y="589.8" font-size="9.40" textLength="25.8" lengthAdjust="spacingAndGlyphs" text-anchor="middle" fill="#111" stroke="#111" stroke-width="0.10">Seg.1</text>
<text x="172.6" y="589.8" font-size="9.40" textLength="38.0" lengthAdjust="spacingAndGlyphs" text-anchor="end" fill="#111" stroke="#111" stroke-width="0.10">2.738um</text>
<text x="229.1" y="589.8" font-size="9.40" textLength="38.0" lengthAdjust="spacingAndGlyphs" text-anchor="end" fill="#111" stroke="#111" stroke-width="0.10">1.898um</text>
<text x="285.0" y="589.8" font-size="9.40" textLength="38.0" lengthAdjust="spacingAndGlyphs" text-anchor="end" fill="#111" stroke="#111" stroke-width="0.10">4.636um</text>
<text x="341.6" y="589.8" font-size="9.40" textLength="38.0" lengthAdjust="spacingAndGlyphs" text-anchor="end" fill="#111" stroke="#111" stroke-width="0.10">2.978um</text>
<text x="396.6" y="589.8" font-size="9.40" textLength="38.0" lengthAdjust="spacingAndGlyphs" text-anchor="end" fill="#111" stroke="#111" stroke-width="0.10">0.652um</text>
<text x="452.6" y="589.8" font-size="9.40" textLength="38.0" lengthAdjust="spacingAndGlyphs" text-anchor="end" fill="#111" stroke="#111" stroke-width="0.10">0.836um</text>
<text x="508.9" y="589.8" font-size="9.40" textLength="29.9" lengthAdjust="spacingAndGlyphs" text-anchor="end" fill="#111" stroke="#111" stroke-width="0.10">0.6746</text>
<text x="565.3" y="589.8" font-size="9.40" textLength="29.9" lengthAdjust="spacingAndGlyphs" text-anchor="end" fill="#111" stroke="#111" stroke-width="0.10">3.2792</text>
<text x="621.6" y="589.8" font-size="9.40" textLength="29.9" lengthAdjust="spacingAndGlyphs" text-anchor="end" fill="#111" stroke="#111" stroke-width="0.10">0.4858</text>
<text x="676.6" y="589.8" font-size="9.40" textLength="43.5" lengthAdjust="spacingAndGlyphs" text-anchor="end" fill="#111" stroke="#111" stroke-width="0.10">47.570um</text>
<text x="732.1" y="589.8" font-size="9.40" textLength="35.3" lengthAdjust="spacingAndGlyphs" text-anchor="end" fill="#111" stroke="#111" stroke-width="0.10">210.215</text>
<text x="85.1" y="601.7" font-size="9.40" textLength="25.8" lengthAdjust="spacingAndGlyphs" text-anchor="middle" fill="#7a1010" stroke="#7a1010" stroke-width="0.10">Seg.2</text>
<text x="172.6" y="601.7" font-size="9.40" textLength="38.0" lengthAdjust="spacingAndGlyphs" text-anchor="end" fill="#111" stroke="#111" stroke-width="0.10">8.073um</text>
<text x="229.1" y="601.7" font-size="9.40" textLength="38.0" lengthAdjust="spacingAndGlyphs" text-anchor="end" fill="#111" stroke="#111" stroke-width="0.10">3.716um</text>
<text x="285.0" y="601.7" font-size="9.40" textLength="42.8" lengthAdjust="spacingAndGlyphs" text-anchor="end" fill="#111" stroke="#111" stroke-width="0.10">11.789um</text>
<text x="341.6" y="601.7" font-size="9.40" textLength="38.0" lengthAdjust="spacingAndGlyphs" text-anchor="end" fill="#111" stroke="#111" stroke-width="0.10">7.563um</text>
<text x="396.6" y="601.7" font-size="9.40" textLength="37.3" lengthAdjust="spacingAndGlyphs" text-anchor="end" fill="#111" stroke="#111" stroke-width="0.10">0.911um</text>
<text x="452.6" y="601.7" font-size="9.40" textLength="38.0" lengthAdjust="spacingAndGlyphs" text-anchor="end" fill="#111" stroke="#111" stroke-width="0.10">1.329um</text>
<text x="508.9" y="601.7" font-size="9.40" textLength="29.9" lengthAdjust="spacingAndGlyphs" text-anchor="end" fill="#111" stroke="#111" stroke-width="0.10">1.8007</text>
<text x="565.3" y="601.7" font-size="9.40" textLength="35.3" lengthAdjust="spacingAndGlyphs" text-anchor="end" fill="#111" stroke="#111" stroke-width="0.10">10.2596</text>
<text x="621.6" y="601.7" font-size="9.40" textLength="29.9" lengthAdjust="spacingAndGlyphs" text-anchor="end" fill="#111" stroke="#111" stroke-width="0.10">0.8879</text>
<text x="676.6" y="601.7" font-size="9.40" textLength="43.5" lengthAdjust="spacingAndGlyphs" text-anchor="end" fill="#111" stroke="#111" stroke-width="0.10">89.440um</text>
<text x="732.1" y="601.7" font-size="9.40" textLength="33.9" lengthAdjust="spacingAndGlyphs" text-anchor="end" fill="#111" stroke="#111" stroke-width="0.10">111.807</text>
<g stroke="#2b2b2b" stroke-width="1" fill="none">
<line x1="51.5" y1="557.0" x2="733.5" y2="557.0" stroke-width="0.8"/>
<line x1="51.5" y1="569.4" x2="733.5" y2="569.4" stroke-width="0.8"/>
<line x1="118.7" y1="581.3" x2="733.5" y2="581.3" stroke="#a8a8a8" stroke-width="0.8"/>
<line x1="118.7" y1="592.8" x2="733.5" y2="592.8" stroke="#a8a8a8" stroke-width="0.8"/>
<line x1="118.5" y1="557.0" x2="118.5" y2="603.6"/>
<line x1="174.5" y1="557.0" x2="174.5" y2="603.6"/>
<line x1="230.5" y1="557.0" x2="230.5" y2="603.6"/>
<line x1="286.5" y1="557.0" x2="286.5" y2="603.6"/>
<line x1="343.5" y1="557.0" x2="343.5" y2="603.6"/>
<line x1="398.5" y1="557.0" x2="398.5" y2="603.6"/>
<line x1="454.5" y1="557.0" x2="454.5" y2="603.6"/>
<line x1="510.5" y1="557.0" x2="510.5" y2="603.6"/>
<line x1="566.5" y1="557.0" x2="566.5" y2="603.6"/>
<line x1="623.5" y1="557.0" x2="623.5" y2="603.6"/>
<line x1="678.5" y1="557.0" x2="678.5" y2="603.6"/>
<line x1="733.5" y1="557.0" x2="733.5" y2="603.6"/>
<line x1="51.5" y1="557.0" x2="51.5" y2="603.6" stroke="#666" stroke-width="0.7"/>
</g>
</g>
</svg>
</body></html>
